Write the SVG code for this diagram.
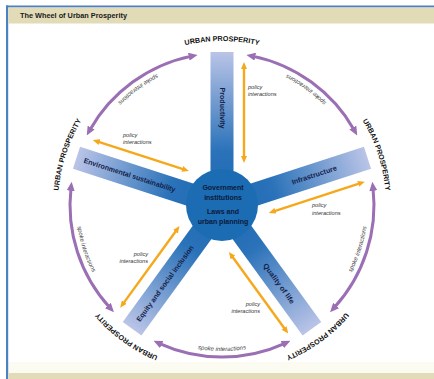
<svg xmlns="http://www.w3.org/2000/svg" width="434" height="379" viewBox="0 0 434 379">
<style>
.title{font-family:"Liberation Sans",Arial,sans-serif;font-weight:bold;font-size:7px;fill:#1a1a1a}
.up{font-family:"Liberation Sans",Arial,sans-serif;font-weight:bold;font-size:7.2px;fill:#111}
.spk{font-family:"Liberation Sans",Arial,sans-serif;font-style:italic;font-size:6px;fill:#444}
.pol{font-family:"Liberation Sans",Arial,sans-serif;font-style:italic;font-size:5.6px;fill:#333}
.bar{font-family:"Liberation Sans",Arial,sans-serif;font-weight:bold;font-size:7.2px;fill:#14224a}
.ctr{font-family:"Liberation Sans",Arial,sans-serif;font-weight:bold;font-size:7px;fill:#0b1a3a}
.arc{fill:none;stroke:#9a6fb4;stroke-width:3;marker-start:url(#pa);marker-end:url(#pa)}
.pl{fill:none;stroke:#f6a81c;stroke-width:2.4;marker-start:url(#oa);marker-end:url(#oa)}
.spoke{fill:url(#sg)}
</style>
<defs>
<linearGradient id="sg" x1="0" y1="0" x2="1" y2="0">
<stop offset="0" stop-color="#1c6ab3"/>
<stop offset="0.35" stop-color="#2a72b9"/>
<stop offset="1" stop-color="#bac4e7"/>
</linearGradient>
<marker id="pa" markerUnits="userSpaceOnUse" markerWidth="9" markerHeight="8" refX="3" refY="4" orient="auto-start-reverse" viewBox="0 0 9 8">
<path d="M0,0 L9,4 L0,8 z" fill="#9a6fb4"/>
</marker>
<marker id="oa" markerUnits="userSpaceOnUse" markerWidth="7" markerHeight="6" refX="2.5" refY="3" orient="auto-start-reverse" viewBox="0 0 7 6">
<path d="M0,0 L7,3 L0,6 z" fill="#f6a81c"/>
</marker>
<path id="t1" d="M348.4,132 A146,146 0 0 0 252.4,62.2"/>
<path id="t2" d="M330.5,302.7 A146,146 0 0 0 367.2,189.7"/>
<path id="t3" d="M162.6,338.4 A146,146 0 0 0 281.4,338.4"/>
<path id="t4" d="M76.8,189.7 A146,146 0 0 0 113.5,302.7"/>
<path id="t5" d="M191.6,62.2 A146,146 0 0 0 95.6,132"/>
<path id="u1" d="M140,63 A164,164 0 0 1 304,63"/>
<path id="u2" d="M331.7,83.1 A164,164 0 0 1 382.4,239.1"/>
<path id="u3" d="M371.8,271.7 A164,164 0 0 1 239.1,368.1"/>
<path id="u4" d="M204.9,368.1 A164,164 0 0 1 72.2,271.7"/>
<path id="u5" d="M61.6,239.1 A164,164 0 0 1 112.3,83.1"/>
</defs>

<g id="frame">
<rect x="0" y="0" width="434" height="379" fill="#ffffff"/>
<rect x="8" y="362" width="426" height="11" fill="#fbfbf1"/>
<rect x="6" y="5.5" width="428" height="2" fill="#4d7fc4"/>
<rect x="6" y="5.5" width="2.2" height="374" fill="#4d7fc4"/>
<rect x="8.2" y="7.5" width="426" height="16" fill="#e1dcb7"/>
<rect x="8.2" y="373" width="426" height="6" fill="#e1dcb7"/>
<text class="title" x="20" y="18" textLength="107" lengthAdjust="spacingAndGlyphs">The Wheel of Urban Prosperity</text>
</g>

<g id="spokes">
<g id="productivity"><rect class="spoke" x="0" y="-11.5" width="153" height="23" transform="translate(222,205) rotate(-90)"/>
<text class="bar" transform="translate(222,108) rotate(90)" x="0" y="2.5" text-anchor="middle" textLength="41" lengthAdjust="spacingAndGlyphs">Productivity</text></g>
<g id="infrastructure"><rect class="spoke" x="0" y="-11.5" width="153" height="23" transform="translate(222,205) rotate(-18)"/>
<text class="bar" transform="translate(314.2,175) rotate(-18)" x="0" y="2.5" text-anchor="middle" textLength="47" lengthAdjust="spacingAndGlyphs">Infrastructure</text></g>
<g id="quality"><rect class="spoke" x="0" y="-11.5" width="153" height="23" transform="translate(222,205) rotate(54)"/>
<text class="bar" transform="translate(279,283.5) rotate(54)" x="0" y="2.5" text-anchor="middle" textLength="48" lengthAdjust="spacingAndGlyphs">Quality of life</text></g>
<g id="equity"><rect class="spoke" x="0" y="-11.5" width="153" height="23" transform="translate(222,205) rotate(126)"/>
<text class="bar" transform="translate(165,283.5) rotate(-54)" x="0" y="2.5" text-anchor="middle" textLength="92" lengthAdjust="spacingAndGlyphs">Equity and social inclusion</text></g>
<g id="environmental"><rect class="spoke" x="0" y="-11.5" width="153" height="23" transform="translate(222,205) rotate(198)"/>
<text class="bar" transform="translate(129.7,175) rotate(18)" x="0" y="2.5" text-anchor="middle" textLength="96" lengthAdjust="spacingAndGlyphs">Environmental sustainability</text></g>
</g>

<g id="center">
<circle cx="222" cy="205" r="36" fill="#1c6cb4"/>
<text class="ctr" x="223" y="189.5" text-anchor="middle">Government</text>
<text class="ctr" x="223" y="199.5" text-anchor="middle">institutions</text>
<text class="ctr" x="223" y="213.5" text-anchor="middle">Laws and</text>
<text class="ctr" x="223" y="223.5" text-anchor="middle">urban planning</text>
</g>

<g id="connectors">
<path class="arc" d="M252.3,56.1 A152,152 0 0 1 354.3,130.2"/>
<path class="arc" d="M373,187.8 A152,152 0 0 1 334.1,307.7"/>
<path class="arc" d="M285,343.3 A152,152 0 0 1 159,343.3"/>
<path class="arc" d="M109.9,307.7 A152,152 0 0 1 71,187.8"/>
<path class="arc" d="M89.7,130.2 A152,152 0 0 1 191.7,56.1"/>
<line class="pl" x1="46.5" y1="22" x2="138.5" y2="22" transform="translate(222,205) rotate(-90)"/>
<line class="pl" x1="46.5" y1="22" x2="138.5" y2="22" transform="translate(222,205) rotate(-18)"/>
<line class="pl" x1="46.5" y1="22" x2="138.5" y2="22" transform="translate(222,205) rotate(54)"/>
<line class="pl" x1="46.5" y1="22" x2="138.5" y2="22" transform="translate(222,205) rotate(126)"/>
<line class="pl" x1="46.5" y1="22" x2="138.5" y2="22" transform="translate(222,205) rotate(198)"/>
</g>

<g id="labels">
<text class="spk"><textPath href="#t1" startOffset="50%" text-anchor="middle">spoke interactions</textPath></text>
<text class="spk"><textPath href="#t2" startOffset="50%" text-anchor="middle">spoke interactions</textPath></text>
<text class="spk"><textPath href="#t3" startOffset="50%" text-anchor="middle">spoke interactions</textPath></text>
<text class="spk"><textPath href="#t4" startOffset="50%" text-anchor="middle">spoke interactions</textPath></text>
<text class="spk"><textPath href="#t5" startOffset="50%" text-anchor="middle">spoke interactions</textPath></text>
<text class="up"><textPath href="#u1" startOffset="50%" text-anchor="middle">URBAN PROSPERITY</textPath></text>
<text class="up"><textPath href="#u2" startOffset="50%" text-anchor="middle">URBAN PROSPERITY</textPath></text>
<text class="up"><textPath href="#u3" startOffset="50%" text-anchor="middle">URBAN PROSPERITY</textPath></text>
<text class="up"><textPath href="#u4" startOffset="50%" text-anchor="middle">URBAN PROSPERITY</textPath></text>
<text class="up"><textPath href="#u5" startOffset="50%" text-anchor="middle">URBAN PROSPERITY</textPath></text>
<text class="pol" x="248" y="89">policy<tspan x="248" y="96">interactions</tspan></text>
<text class="pol" x="312" y="207">policy<tspan x="312" y="214.5">interactions</tspan></text>
<text class="pol" x="260" y="305.5" text-anchor="end">policy<tspan x="260" y="312.5">interactions</tspan></text>
<text class="pol" x="148" y="256" text-anchor="end">policy<tspan x="148" y="263">interactions</tspan></text>
<text class="pol" x="123" y="136.5">policy<tspan x="123" y="143.5">interactions</tspan></text>
</g>
</svg>
